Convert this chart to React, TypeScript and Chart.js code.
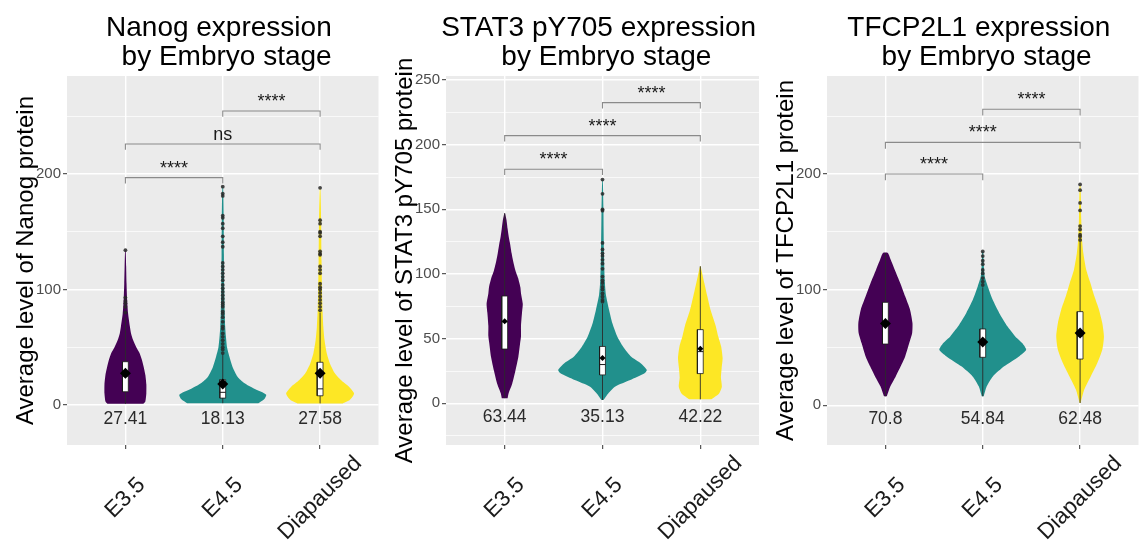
import React, { useEffect, useRef } from 'react';
import { Chart, registerables } from 'chart.js';

Chart.register(...registerables);

const FONT = '"Liberation Sans", Arial, Helvetica, sans-serif';

const categories = ['E3.5', 'E4.5', 'Diapaused'];
const violinColors = ['#440154', '#21908C', '#FDE725'];

// ---------- Panel 1: Nanog ----------
const nanogTitle = ['Nanog expression ', ' by Embryo stage'];
const nanogAxisTitle = 'Average level of Nanog protein';
const nanogYRange = [-34.6, 284.8];
const nanogMajorTicks = [0, 100, 200];
const nanogMinorTicks = [50, 150, 250];
const nanogMeans = [27.41, 18.13, 27.58];
const nanogLevelsE35 = [1, 3, 10, 18, 26, 33, 39, 45, 50, 56, 62, 68, 79, 91, 105, 120, 134];
const nanogWidthsE35 = [0.185, 0.205, 0.215, 0.215, 0.205, 0.188, 0.17, 0.145, 0.112, 0.08, 0.058, 0.046, 0.028, 0.018, 0.012, 0.008, 0.003];
const nanogLevelsE45 = [1.5, 5, 9, 14, 19, 24.5, 33, 42, 50, 60, 68, 80, 100, 130, 160, 189];
const nanogWidthsE45 = [0.365, 0.425, 0.446, 0.324, 0.22, 0.152, 0.101, 0.068, 0.044, 0.032, 0.025, 0.02, 0.015, 0.012, 0.01, 0.004];
const nanogLevelsDia = [1.4, 4.3, 10, 16, 21.6, 27.4, 36, 45, 56, 68, 82, 97, 125, 160, 187];
const nanogWidthsDia = [0.233, 0.304, 0.349, 0.294, 0.213, 0.152, 0.101, 0.068, 0.046, 0.033, 0.025, 0.02, 0.015, 0.011, 0.004];
// [lower whisker, Q1, median, Q3, upper whisker]
const nanogBoxes = [[1, 11.5, 25, 37.5, 76], [1.5, 6, 11, 22, 44], [1.4, 8, 14, 37, 80]];
const nanogOutliersE35 = [80, 85, 88, 90, 93, 134];
const nanogOutliersE45 = [45, 48, 50, 53, 56, 59, 62, 66, 68, 72, 76, 79, 81, 85, 87, 89, 92, 95, 98, 101, 104, 108, 111, 114, 117, 120, 123, 137, 141, 146, 153, 157, 162, 164, 181, 183, 189];
const nanogOutliersDia = [82, 85, 88, 91, 94, 97, 100, 102, 105, 114, 117, 120, 130, 131, 133, 146, 149, 150, 157, 160, 188];
const nanogBrackets = [[0, 1, 196.8], [0, 2, 226], [1, 2, 254.5]];
const nanogBracketLabels = ['****', 'ns', '****'];

// ---------- Panel 2: STAT3 pY705 ----------
const stat3Title = ['STAT3 pY705 expression ', ' by Embryo stage'];
const stat3AxisTitle = 'Average level of STAT3 pY705 protein';
const stat3YRange = [-32.2, 253.1];
const stat3MajorTicks = [0, 50, 100, 150, 200, 250];
const stat3MinorTicks = [-25, 25, 75, 125, 175, 225];
const stat3Means = [63.44, 35.13, 42.22];
const stat3LevelsE35 = [4, 8, 15, 25, 36, 46, 52, 60, 70, 77, 85, 90, 97, 103, 110, 116, 123, 129, 135, 142, 147];
const stat3WidthsE35 = [0.03, 0.041, 0.076, 0.109, 0.14, 0.157, 0.167, 0.167, 0.177, 0.185, 0.167, 0.16, 0.137, 0.109, 0.086, 0.071, 0.056, 0.041, 0.03, 0.018, 0.003];
const stat3LevelsE45 = [2.6, 7.7, 12.9, 18, 23.2, 25.8, 31, 36, 43.8, 51.5, 61.9, 72, 84, 95, 116, 150, 173];
const stat3WidthsE45 = [0.01, 0.059, 0.127, 0.284, 0.43, 0.453, 0.39, 0.294, 0.211, 0.152, 0.101, 0.068, 0.035, 0.023, 0.015, 0.01, 0.003];
const stat3LevelsDia = [3.1, 7.7, 12.9, 20, 27, 35, 44, 52, 60, 72, 83, 93, 101, 106];
const stat3WidthsDia = [0.111, 0.192, 0.22, 0.211, 0.218, 0.228, 0.213, 0.182, 0.157, 0.106, 0.071, 0.041, 0.018, 0.003];
const stat3Boxes = [[4, 42, 63, 83, 147], [2.6, 22, 30, 44, 77], [3.1, 23, 40, 57, 106]];
const stat3OutliersE35: number[] = [];
const stat3OutliersE45 = [78.6, 80, 82.5, 85, 88, 90, 93, 95, 98, 104, 108, 111, 114, 116, 119, 124, 149, 150, 162, 173];
const stat3OutliersDia: number[] = [];
const stat3Brackets = [[0, 1, 181], [0, 2, 207], [1, 2, 232.5]];
const stat3BracketLabels = ['****', '****', '****'];

// ---------- Panel 3: TFCP2L1 ----------
const tfcpTitle = ['TFCP2L1 expression ', ' by Embryo stage'];
const tfcpAxisTitle = 'Average level of TFCP2L1 protein';
const tfcpYRange = [-34.3, 284.7];
const tfcpMajorTicks = [0, 100, 200];
const tfcpMinorTicks = [50, 150, 250];
const tfcpMeans = [70.8, 54.84, 62.48];
const tfcpLevelsE35 = [7.8, 16.4, 25, 33.7, 42.3, 53.9, 62.6, 71.2, 82.7, 94.2, 105.8, 117.3, 126, 131.7];
const tfcpWidthsE35 = [0.015, 0.051, 0.106, 0.157, 0.203, 0.245, 0.275, 0.278, 0.253, 0.203, 0.152, 0.096, 0.054, 0.025];
const tfcpLevelsE45 = [7.8, 16.4, 25, 33.7, 42.3, 48.1, 53.9, 59.6, 68.3, 79.9, 91.4, 102.9, 111.5, 122, 133];
const tfcpWidthsE45 = [0.01, 0.041, 0.104, 0.22, 0.372, 0.446, 0.405, 0.334, 0.253, 0.169, 0.101, 0.051, 0.02, 0.01, 0.005];
const tfcpLevelsDia = [2, 13.6, 25, 36.6, 48.1, 59.6, 71.2, 82.7, 94.2, 105.8, 117.3, 131.7, 143.2, 160.5, 190];
const tfcpWidthsDia = [0.005, 0.043, 0.109, 0.177, 0.228, 0.245, 0.228, 0.194, 0.147, 0.106, 0.063, 0.033, 0.02, 0.012, 0.005];
const tfcpBoxes = [[7.8, 53, 70, 89, 131.7], [7.8, 41.5, 53, 66, 102], [2, 40, 60, 81, 142]];
const tfcpOutliersE35: number[] = [];
const tfcpOutliersE45 = [104, 107, 110, 114, 117, 122, 125, 129, 133];
const tfcpOutliersDia = [143, 146, 147.5, 152, 155, 168.5, 175, 186, 191];
const tfcpBrackets = [[0, 1, 200], [0, 2, 227.3], [1, 2, 256]];
const tfcpBracketLabels = ['****', '****', '****'];

type Panel = {
  offset: number;
  title: string[];
  axisTitle: string;
  yRange: number[];
  majors: number[];
  minors: number[];
  means: number[];
  levels: number[][];
  widths: number[][];
  boxes: number[][];
  outliers: number[][];
  brackets: number[][];
  bracketLabels: string[];
  bracketTip: number;
  meanLabelY: number;
  meanRadius: number;
};

const panels: Panel[] = [
  {
    offset: 0, title: nanogTitle, axisTitle: nanogAxisTitle, yRange: nanogYRange,
    majors: nanogMajorTicks, minors: nanogMinorTicks, means: nanogMeans,
    levels: [nanogLevelsE35, nanogLevelsE45, nanogLevelsDia],
    widths: [nanogWidthsE35, nanogWidthsE45, nanogWidthsDia],
    boxes: nanogBoxes, outliers: [nanogOutliersE35, nanogOutliersE45, nanogOutliersDia],
    brackets: nanogBrackets, bracketLabels: nanogBracketLabels,
    bracketTip: 5, meanLabelY: -11.9, meanRadius: 5.5,
  },
  {
    offset: 379, title: stat3Title, axisTitle: stat3AxisTitle, yRange: stat3YRange,
    majors: stat3MajorTicks, minors: stat3MinorTicks, means: stat3Means,
    levels: [stat3LevelsE35, stat3LevelsE45, stat3LevelsDia],
    widths: [stat3WidthsE35, stat3WidthsE45, stat3WidthsDia],
    boxes: stat3Boxes, outliers: [stat3OutliersE35, stat3OutliersE45, stat3OutliersDia],
    brackets: stat3Brackets, bracketLabels: stat3BracketLabels,
    bracketTip: 4.5, meanLabelY: -10.4, meanRadius: 3,
  },
  {
    offset: 760, title: tfcpTitle, axisTitle: tfcpAxisTitle, yRange: tfcpYRange,
    majors: tfcpMajorTicks, minors: tfcpMinorTicks, means: tfcpMeans,
    levels: [tfcpLevelsE35, tfcpLevelsE45, tfcpLevelsDia],
    widths: [tfcpWidthsE35, tfcpWidthsE45, tfcpWidthsDia],
    boxes: tfcpBoxes, outliers: [tfcpOutliersE35, tfcpOutliersE45, tfcpOutliersDia],
    brackets: tfcpBrackets, bracketLabels: tfcpBracketLabels,
    bracketTip: 5.5, meanLabelY: -11.8, meanRadius: 5.5,
  },
];

const BOX_HALF = 0.03;

function buildDatasets(p: Panel) {
  const ds: any[] = [];
  p.levels.forEach((lv, i) => {
    const w = p.widths[i];
    const right = lv.map((y, k) => ({ x: i + w[k], y }));
    const left = lv.map((y, k) => ({ x: i - w[k], y })).reverse();
    ds.push({
      data: [...right, ...left], fill: 'shape', backgroundColor: violinColors[i],
      borderColor: violinColors[i], borderWidth: 0, pointRadius: 0, tension: 0.2, order: 7,
    });
  });
  p.boxes.forEach((b, i) => {
    const [lo, q1, med, q3, hi] = b;
    ds.push({
      data: [{ x: i, y: lo }, { x: i, y: hi }], borderColor: '#2b2b2b', borderWidth: 0.9,
      pointRadius: 0, fill: false, order: 6,
    });
    ds.push({
      data: [
        { x: i - BOX_HALF, y: q1 }, { x: i + BOX_HALF, y: q1 }, { x: i + BOX_HALF, y: q3 },
        { x: i - BOX_HALF, y: q3 }, { x: i - BOX_HALF, y: q1 },
      ],
      fill: 'shape', backgroundColor: '#ffffff', borderColor: '#1a1a1a', borderWidth: 0.8,
      pointRadius: 0, order: 5,
    });
    ds.push({
      data: [{ x: i - BOX_HALF, y: med }, { x: i + BOX_HALF, y: med }], borderColor: '#1a1a1a',
      borderWidth: 1, pointRadius: 0, fill: false, order: 4,
    });
  });
  p.outliers.forEach((o, i) => {
    ds.push({
      data: o.map((y) => ({ x: i, y })), showLine: false, pointRadius: 1.9,
      pointBackgroundColor: 'rgba(40,40,40,0.85)', pointBorderWidth: 0, order: 3,
    });
  });
  ds.push({
    data: p.means.map((y, i) => ({ x: i, y })), showLine: false, pointStyle: 'rectRot',
    pointRadius: p.meanRadius, pointBackgroundColor: '#000000', pointBorderWidth: 0, order: 2,
  });
  p.brackets.forEach(([a, b, y]) => {
    ds.push({
      data: [{ x: a, y: y - p.bracketTip }, { x: a, y }, { x: b, y }, { x: b, y: y - p.bracketTip }],
      borderColor: '#8a8a8a', borderWidth: 1.1, pointRadius: 0, fill: false, order: 1,
    });
  });
  return ds;
}

function makeChart(canvas: HTMLCanvasElement, p: Panel) {
  const isMajor = (v: number) => p.majors.includes(v);
  const bgPlugin = {
    id: 'panelBg',
    beforeDraw(chart: any) {
      const { ctx, chartArea: a } = chart;
      ctx.save();
      ctx.fillStyle = '#EBEBEB';
      ctx.fillRect(a.left, a.top, a.right - a.left, a.bottom - a.top);
      ctx.restore();
    },
  };
  const textPlugin = {
    id: 'panelText',
    afterDraw(chart: any) {
      const { ctx, chartArea: a } = chart;
      const xs = chart.scales.x;
      const ys = chart.scales.y;
      const cx = (a.left + a.right) / 2;
      const cy = (a.top + a.bottom) / 2;
      ctx.save();
      ctx.fillStyle = '#000';
      ctx.font = `28px ${FONT}`;
      ctx.textAlign = 'center';
      ctx.textBaseline = 'alphabetic';
      ctx.fillText(p.title[0], cx, 36);
      ctx.fillText(p.title[1], cx, 65);
      ctx.save();
      ctx.translate(33, cy);
      ctx.rotate(-Math.PI / 2);
      ctx.font = `24px ${FONT}`;
      ctx.fillText(p.axisTitle, 0, 0);
      ctx.restore();
      ctx.font = `22.5px ${FONT}`;
      ctx.fillStyle = '#1a1a1a';
      categories.forEach((c, i) => {
        ctx.save();
        ctx.translate(xs.getPixelForValue(i), a.bottom + 53);
        ctx.rotate(-Math.PI / 4);
        ctx.textAlign = 'center';
        ctx.textBaseline = 'middle';
        ctx.fillText(c, 0, 0);
        ctx.restore();
      });
      ctx.font = `17.5px ${FONT}`;
      ctx.fillStyle = '#2a2a2a';
      ctx.textAlign = 'center';
      ctx.textBaseline = 'middle';
      p.means.forEach((m, i) => {
        ctx.fillText(String(m), xs.getPixelForValue(i), ys.getPixelForValue(p.meanLabelY));
      });
      ctx.font = `18px ${FONT}`;
      ctx.fillStyle = '#1a1a1a';
      ctx.textBaseline = 'alphabetic';
      p.brackets.forEach(([i, j, y], k) => {
        const x = (xs.getPixelForValue(i) + xs.getPixelForValue(j)) / 2;
        ctx.fillText(p.bracketLabels[k], x, ys.getPixelForValue(y) - 4);
      });
      ctx.restore();
    },
  };
  const [ymin, ymax] = p.yRange;
  return new Chart(canvas, {
    type: 'line',
    data: { datasets: buildDatasets(p) },
    options: {
      responsive: false,
      animation: false,
      devicePixelRatio: 1,
      events: [],
      layout: { padding: { top: 76, left: 0, right: 1, bottom: 0 } },
      plugins: { legend: { display: false }, tooltip: { enabled: false }, title: { display: false } },
      scales: {
        x: {
          type: 'linear', min: -0.6, max: 2.6,
          afterBuildTicks: (s: any) => { s.ticks = categories.map((_, i) => ({ value: i })); },
          afterFit: (s: any) => { s.height = 101; },
          ticks: { display: false },
          grid: { color: '#ffffff', lineWidth: 1.4, tickColor: '#333333', tickLength: 4, tickWidth: 1 },
          border: { display: false },
        },
        y: {
          type: 'linear', min: ymin, max: ymax,
          afterBuildTicks: (s: any) => {
            s.ticks = [...p.minors, ...p.majors]
              .filter((v) => v >= ymin && v <= ymax)
              .sort((a, b) => a - b)
              .map((v) => ({ value: v }));
          },
          afterFit: (s: any) => { s.width = 67; },
          ticks: {
            autoSkip: false, padding: 2, color: '#4d4d4d', font: { family: FONT, size: 15 },
            callback: (v: any) => (isMajor(v) ? String(v) : ''),
          },
          grid: {
            color: '#ffffff',
            lineWidth: (c: any) => (c.tick && isMajor(c.tick.value) ? 1.4 : 0.7),
            tickColor: (c: any) => (c.tick && isMajor(c.tick.value) ? '#333333' : 'rgba(0,0,0,0)'),
            tickLength: 4, tickWidth: 1,
          },
          border: { display: false },
        },
      },
    } as any,
    plugins: [bgPlugin, textPlugin],
  });
}

export default function App() {
  const refs = useRef<(HTMLCanvasElement | null)[]>([]);
  useEffect(() => {
    document.body.style.margin = '0';
    const charts = panels.map((p, i) => makeChart(refs.current[i] as HTMLCanvasElement, p));
    return () => charts.forEach((c) => c.destroy());
  }, []);
  return (
    <div style={{ position: 'fixed', left: 0, top: 0, width: 1140, height: 546, overflow: 'hidden', background: '#fff' }}>
      {panels.map((p, i) => (
        <canvas
          key={i}
          ref={(el) => { refs.current[i] = el; }}
          width={384}
          height={546}
          style={{ position: 'absolute', left: p.offset, top: 0, width: 384, height: 546 }}
        />
      ))}
    </div>
  );
}
